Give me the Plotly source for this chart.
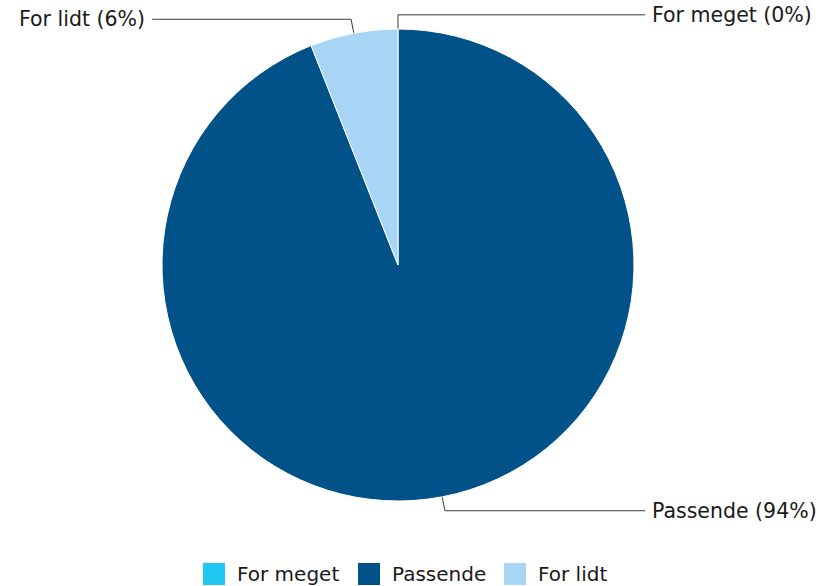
import math
import plotly.graph_objects as go

# data
labels = ["For meget", "Passende", "For lidt"]
values = [0, 94, 6]
colors = ["#1ec8f0", "#005288", "#a8d5f5"]

W, H = 822, 586
CX, CY, R = 398, 265, 236   # pie centre / radius in px
FONT = "DejaVu Sans, Verdana, sans-serif"
FS_LAB = 20.5
FS_LEG = 20
TXT = "#1a1a1a"

fig = go.Figure()

fig.add_trace(go.Pie(
    labels=labels,
    values=values,
    marker=dict(colors=colors, line=dict(color="white", width=1)),
    sort=False,
    direction="clockwise",
    rotation=0,
    textinfo="none",
    hoverinfo="label+percent",
    domain=dict(x=[(CX - R) / W, (CX + R) / W],
                y=[(H - CY - R) / H, (H - CY + R) / H]),
    showlegend=False,
))

# leader lines, computed from the slice mid angles
total = sum(values)
cum = 0
for lab, v in zip(labels, values):
    mid = (cum + v / 2) / total * 2 * math.pi
    cum += v
    sx, sy = math.sin(mid), -math.cos(mid)
    x0, y0 = CX + 0.9 * R * sx, CY + 0.9 * R * sy
    x1, y1 = CX + 1.06 * R * sx, CY + 1.06 * R * sy
    right = sx >= -1e-9
    x2 = CX + 1.047 * R if right else CX - 1.042 * R
    fig.add_trace(go.Scatter(
        x=[x0, x1, x2], y=[y0, y1, y1],
        mode="lines",
        line=dict(color="#3a3a3a", width=1),
        hoverinfo="skip",
        showlegend=False,
    ))
    pct = round(v / total * 100)
    fig.add_annotation(
        x=x2 + (5 if right else -5), y=y1,
        xref="x", yref="y",
        text=f"{lab} ({pct}%)",
        showarrow=False,
        xanchor="left" if right else "right",
        yanchor="middle",
        font=dict(family=FONT, size=FS_LAB, color=TXT),
    )

# legend drawn by hand so the squares are as big as in the original
leg_x = [203, 358, 504]
leg_y = 574
SQ = 22
for lab, col, lx in zip(labels, colors, leg_x):
    fig.add_shape(
        type="rect", xref="x", yref="y",
        x0=lx, x1=lx + SQ, y0=leg_y - SQ / 2, y1=leg_y + SQ / 2,
        fillcolor=col, line=dict(width=0),
    )
    fig.add_annotation(
        x=lx + SQ + 10, y=leg_y, xref="x", yref="y",
        text=lab, showarrow=False,
        xanchor="left", yanchor="middle",
        font=dict(family=FONT, size=FS_LEG, color=TXT),
    )

fig.update_layout(
    width=W, height=H,
    margin=dict(l=0, r=0, t=0, b=0),
    paper_bgcolor="white",
    plot_bgcolor="rgba(0,0,0,0)",
    font=dict(family=FONT, size=FS_LEG, color=TXT),
    xaxis=dict(range=[0, W], domain=[0, 1], visible=False, fixedrange=True),
    yaxis=dict(range=[H, 0], domain=[0, 1], visible=False, fixedrange=True),
    showlegend=False,
)

# drop the default 8px body margin so the chart fills the window
fig.write_html(
    "out.html",
    config={"displayModeBar": False},
    post_script="document.body.style.margin='0';",
)
